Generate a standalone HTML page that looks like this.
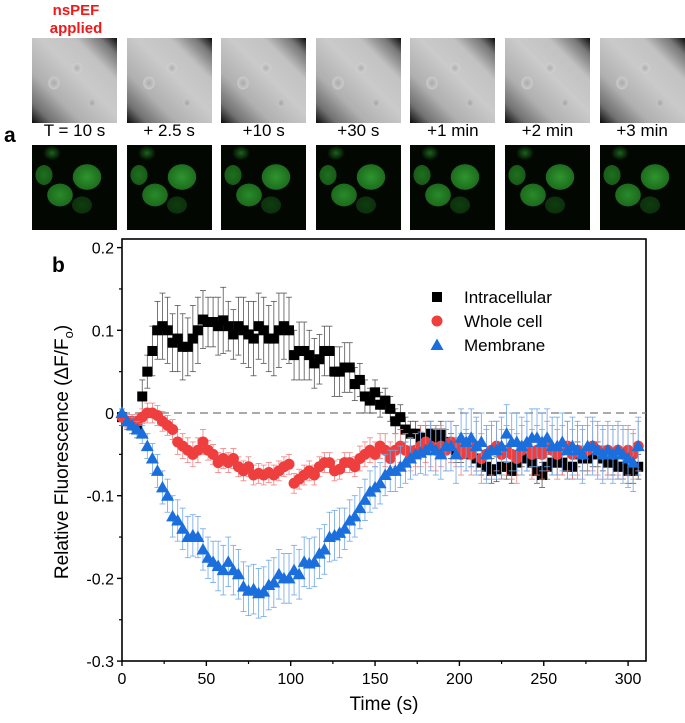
<!DOCTYPE html>
<html><head><meta charset="utf-8"><style>
body{margin:0;background:#fff;width:685px;height:723px;overflow:hidden;position:relative;font-family:"Liberation Sans",Arial,sans-serif}
.img{position:absolute;width:85px;height:85px;overflow:hidden}
.gray{top:38px;background:
radial-gradient(ellipse 9px 10px at 22px 45px,#aaa 0,#c9c9c9 60%,transparent 70%),
radial-gradient(ellipse 8px 8px at 45px 30px,#b0b0b0 0,#cfcfcf 60%,transparent 70%),
radial-gradient(ellipse 6px 7px at 60px 65px,#a5a5a5 0,#c5c5c5 60%,transparent 70%),
linear-gradient(to top right,#0a0a0a 0%,#707070 12%,#b0b0b0 30%,#cacaca 55%,#c2c2c2 75%,#777 90%,#0a0a0a 100%)}
.green{top:145px;height:85px;background:
radial-gradient(ellipse 18px 16px at 28px 50px,#2a8a2a 0,#1c6a1c 70%,transparent 72%),
radial-gradient(ellipse 20px 18px at 55px 32px,#2f952f 0,#1d6d1d 70%,transparent 72%),
radial-gradient(ellipse 12px 14px at 12px 30px,#1f701f 0,#185a18 70%,transparent 72%),
radial-gradient(ellipse 14px 12px at 50px 60px,#103d10 0,#0c300c 70%,transparent 72%),
radial-gradient(ellipse 12px 10px at 20px 8px,#1b641b 0,transparent 75%),
#020702}
.lbl{position:absolute;top:121px;font-size:17px;width:95px;text-align:center}
</style></head><body>
<div style="position:absolute;left:30px;top:2px;width:92px;text-align:center;color:#f01818;font-weight:bold;font-size:15px;line-height:18px">nsPEF<br>applied</div>
<div style="position:absolute;left:4px;top:124px;font-weight:bold;font-size:21px">a</div>
<div id="imgs"></div>
<svg id="chart" width="685" height="723" style="position:absolute;left:0;top:0"></svg>
<script>
const times=[];for(let i=0;i<=102;i++)times.push(i*3);
const intracellular=[-0.005,-0.01,-0.015,-0.02,0.02,0.05,0.075,0.1,0.105,0.1,0.085,0.09,0.08,0.08,0.09,0.1,0.113,0.11,0.11,0.105,0.112,0.105,0.095,0.105,0.1,0.095,0.09,0.105,0.1,0.09,0.09,0.1,0.105,0.1,0.07,0.075,0.075,0.07,0.06,0.065,0.075,0.075,0.05,0.05,0.055,0.055,0.035,0.04,0.02,0.015,0.025,0.01,0.015,0.005,-0.01,-0.005,-0.02,-0.025,-0.025,-0.03,-0.03,-0.025,-0.03,-0.025,-0.035,-0.04,-0.045,-0.045,-0.04,-0.05,-0.055,-0.06,-0.065,-0.07,-0.068,-0.065,-0.065,-0.07,-0.06,-0.05,-0.055,-0.06,-0.07,-0.075,-0.065,-0.06,-0.06,-0.06,-0.065,-0.065,-0.05,-0.055,-0.055,-0.05,-0.05,-0.055,-0.06,-0.06,-0.065,-0.065,-0.07,-0.07,-0.065];
const wholeCell=[-0.005,-0.01,-0.01,-0.01,-0.005,0,0,-0.003,-0.01,-0.015,-0.02,-0.035,-0.04,-0.045,-0.05,-0.045,-0.035,-0.045,-0.05,-0.06,-0.055,-0.06,-0.055,-0.065,-0.07,-0.065,-0.075,-0.073,-0.075,-0.072,-0.075,-0.07,-0.065,-0.062,-0.085,-0.08,-0.075,-0.07,-0.075,-0.065,-0.06,-0.06,-0.07,-0.068,-0.06,-0.06,-0.065,-0.055,-0.05,-0.045,-0.05,-0.04,-0.045,-0.055,-0.045,-0.04,-0.045,-0.05,-0.045,-0.04,-0.035,-0.04,-0.045,-0.04,-0.045,-0.035,-0.04,-0.05,-0.045,-0.05,-0.04,-0.055,-0.05,-0.045,-0.04,-0.05,-0.045,-0.05,-0.055,-0.045,-0.04,-0.05,-0.045,-0.05,-0.04,-0.045,-0.05,-0.045,-0.04,-0.05,-0.045,-0.05,-0.045,-0.04,-0.045,-0.05,-0.045,-0.05,-0.045,-0.05,-0.045,-0.05,-0.04];
const membrane=[0,-0.01,-0.015,-0.02,-0.025,-0.04,-0.055,-0.07,-0.09,-0.1,-0.125,-0.13,-0.14,-0.15,-0.148,-0.15,-0.165,-0.175,-0.18,-0.185,-0.19,-0.18,-0.19,-0.195,-0.21,-0.215,-0.213,-0.218,-0.216,-0.208,-0.205,-0.195,-0.2,-0.2,-0.19,-0.195,-0.18,-0.182,-0.18,-0.17,-0.165,-0.15,-0.148,-0.145,-0.14,-0.13,-0.125,-0.115,-0.105,-0.095,-0.09,-0.085,-0.075,-0.07,-0.07,-0.065,-0.06,-0.055,-0.05,-0.048,-0.045,-0.04,-0.045,-0.05,-0.04,-0.04,-0.05,-0.03,-0.035,-0.03,-0.04,-0.035,-0.05,-0.045,-0.045,-0.04,-0.025,-0.035,-0.035,-0.04,-0.035,-0.03,-0.03,-0.035,-0.03,-0.04,-0.04,-0.035,-0.045,-0.04,-0.045,-0.05,-0.04,-0.04,-0.045,-0.05,-0.045,-0.05,-0.045,-0.05,-0.055,-0.06,-0.04];
const errIntra=[0.01,0.01,0.01,0.01,0.02,0.02,0.03,0.035,0.04,0.04,0.035,0.04,0.04,0.035,0.04,0.04,0.035,0.03,0.03,0.035,0.04,0.03,0.03,0.035,0.04,0.04,0.045,0.04,0.04,0.04,0.045,0.045,0.04,0.04,0.03,0.035,0.035,0.03,0.03,0.03,0.03,0.03,0.03,0.03,0.03,0.03,0.02,0.02,0.02,0.015,0.015,0.015,0.015,0.015,0.015,0.015,0.015,0.015,0.015,0.015,0.015,0.015,0.015,0.015,0.015,0.015,0.015,0.015,0.015,0.015,0.015,0.015,0.015,0.015,0.015,0.015,0.015,0.015,0.015,0.015,0.015,0.015,0.015,0.015,0.015,0.015,0.015,0.015,0.015,0.015,0.015,0.015,0.015,0.015,0.015,0.015,0.015,0.015,0.015,0.015,0.015,0.015,0.015];
const errWhole=[0.005,0.008,0.008,0.008,0.01,0.012,0.012,0.012,0.012,0.012,0.012,0.015,0.015,0.015,0.015,0.015,0.015,0.012,0.012,0.012,0.012,0.012,0.012,0.012,0.012,0.012,0.012,0.012,0.012,0.012,0.012,0.012,0.012,0.012,0.012,0.012,0.012,0.012,0.012,0.012,0.012,0.012,0.012,0.012,0.012,0.012,0.012,0.015,0.015,0.015,0.015,0.015,0.02,0.02,0.02,0.02,0.02,0.02,0.02,0.025,0.025,0.025,0.025,0.025,0.025,0.025,0.025,0.025,0.025,0.025,0.03,0.03,0.03,0.03,0.03,0.03,0.03,0.03,0.03,0.03,0.03,0.03,0.03,0.03,0.03,0.03,0.03,0.03,0.03,0.03,0.03,0.03,0.03,0.03,0.03,0.03,0.03,0.03,0.03,0.03,0.03,0.03,0.03];
const errMem=[0.005,0.01,0.01,0.01,0.012,0.015,0.018,0.02,0.02,0.02,0.025,0.025,0.025,0.025,0.025,0.025,0.025,0.025,0.025,0.03,0.03,0.03,0.03,0.03,0.03,0.03,0.03,0.03,0.03,0.03,0.03,0.03,0.03,0.03,0.03,0.03,0.03,0.03,0.03,0.03,0.03,0.03,0.03,0.03,0.025,0.025,0.025,0.025,0.025,0.025,0.025,0.025,0.025,0.025,0.025,0.025,0.025,0.025,0.025,0.025,0.03,0.03,0.03,0.03,0.03,0.03,0.035,0.035,0.035,0.035,0.035,0.035,0.035,0.035,0.035,0.035,0.035,0.035,0.035,0.035,0.035,0.035,0.035,0.035,0.035,0.035,0.035,0.035,0.035,0.035,0.035,0.035,0.035,0.035,0.035,0.035,0.035,0.035,0.035,0.035,0.035,0.035,0.035];
const xTicks=[0,50,100,150,200,250,300];
const yTicks=[0.2,0.1,0,-0.1,-0.2,-0.3];
const yTickLabels=["0.2","0.1","0","-0.1","-0.2","-0.3"];
const panelLabels=["T = 10 s","+ 2.5 s","+10 s","+30 s","+1 min","+2 min","+3 min"];

const imgs=document.getElementById('imgs');
panelLabels.forEach((t,i)=>{
  const x=32+i*94.6;
  const g=document.createElement('div');g.className='img gray';g.style.left=x+'px';
  
  
  imgs.appendChild(g);
  const l=document.createElement('div');l.className='lbl';l.style.left=(x-5)+'px';l.textContent=t;
  
  
  imgs.appendChild(l);
  const gr=document.createElement('div');gr.className='img green';gr.style.left=x+'px';
  
  
  imgs.appendChild(gr);
});

const NS='http://www.w3.org/2000/svg';
const svg=document.getElementById('chart');
const X0=122,X1=646,Y0=661,YT=239;
const xs=v=>122+v*1.687;
const ys=v=>413-v*827;
function el(tag,attrs,parent){const e=document.createElementNS(NS,tag);for(const k in attrs)e.setAttribute(k,attrs[k]);(parent||svg).appendChild(e);return e;}
const fr=el('rect',{x:X0,y:YT,width:X1-X0,height:Y0-YT,fill:'none',stroke:'#000','stroke-width':1.6});


const zl=el('line',{x1:X0,x2:X1,y1:ys(0),y2:ys(0),stroke:'#777','stroke-width':1.3,'stroke-dasharray':'8,5'});


xTicks.forEach(v=>{
  const x=xs(v);
  el('line',{x1:x,x2:x,y1:Y0,y2:Y0+5,stroke:'#000','stroke-width':1.4});
  const xm=xs(v+25);
  if(xm<X1)el('line',{x1:xm,x2:xm,y1:Y0,y2:Y0+3,stroke:'#000','stroke-width':1.2});
  const t=el('text',{x:x,y:Y0+23,'text-anchor':'middle','font-size':16});t.textContent=v;
  
  
});
yTicks.forEach((v,i)=>{
  const y=ys(v);
  el('line',{x1:X0-5,x2:X0,y1:y,y2:y,stroke:'#000','stroke-width':1.4});
  if(i<yTicks.length-1)el('line',{x1:X0-3,x2:X0,y1:ys(v-0.05),y2:ys(v-0.05),stroke:'#000','stroke-width':1.2});
  const t=el('text',{x:X0-8,y:y+6,'text-anchor':'end','font-size':16});t.textContent=yTickLabels[i];
  
  
});
const xt=el('text',{x:384,y:710,'text-anchor':'middle','font-size':19});xt.textContent='Time (s)';


const yt=el('text',{x:0,y:0,'text-anchor':'middle','font-size':19,transform:'translate(68,452) rotate(-90)'});
yt.innerHTML='Relative Fluorescence (ΔF/F<tspan font-size="13" dy="5">o</tspan><tspan dy="-5">)</tspan>';


const bl=el('text',{x:52,y:272,'font-size':21,'font-weight':'bold'});bl.textContent='b';



function marker(shape,x,y,color,g){
  if(shape==='sq')return el('rect',{x:x-5,y:y-5,width:10,height:10,fill:color},g);
  if(shape==='ci')return el('circle',{cx:x,cy:y,r:5.5,fill:color},g);
  return el('polygon',{points:`${x},${y-6.5} ${x-6.5},${y+5} ${x+6.5},${y+5}`,fill:color},g);
}
function series(vals,errs,color,ecolor,shape,name){
  const g=el('g',{});
  
  
  vals.forEach((v,i)=>{
    const x=xs(times[i]),y1=ys(v+errs[i]),y2=ys(v-errs[i]);
    el('line',{x1:x,x2:x,y1:y1,y2:y2,stroke:ecolor,'stroke-width':0.8},g);
    el('line',{x1:x-3,x2:x+3,y1:y1,y2:y1,stroke:ecolor,'stroke-width':0.8},g);
    el('line',{x1:x-3,x2:x+3,y1:y2,y2:y2,stroke:ecolor,'stroke-width':0.8},g);
  });
  vals.forEach((v,i)=>{
    const m=marker(shape,xs(times[i]),ys(v),color,g);
    
    
  });
}
series(intracellular,errIntra,'#000','#555','sq','intracellular');
series(wholeCell,errWhole,'#ef3e3e','#f08080','ci','whole-cell');
series(membrane,errMem,'#1a6fdc','#6ea6ea','tr','membrane');
const lg=el('g',{});


[['sq','#000','Intracellular'],['ci','#ef3e3e','Whole cell'],['tr','#1a6fdc','Membrane']].forEach((d,i)=>{
  const y=297+i*24;
  marker(d[0],437,y,d[1],lg);
  const t=el('text',{x:464,y:y+6,'font-size':17},lg);t.textContent=d[2];
  
  
});
</script>
</body></html>
